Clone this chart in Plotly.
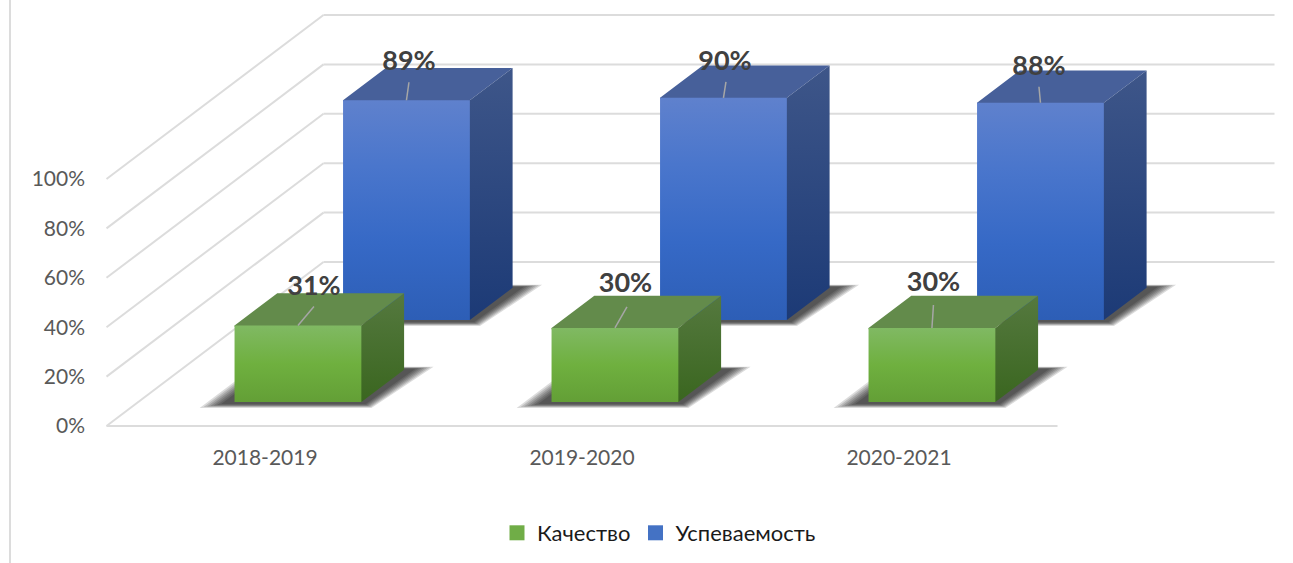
import plotly.graph_objects as go

# ---- data ----
categories = ["2018-2019", "2019-2020", "2020-2021"]
kachestvo = [31, 30, 30]
uspevaemost = [89, 90, 88]
y_ticks = [0, 20, 40, 60, 80, 100]
y_tick_labels = ["0%", "20%", "40%", "60%", "80%", "100%"]

# ---- geometry (axis units) ----
W, H = 1293, 563
M_L = 88
PX_X = 317.0      # px per category
PX_Y = 2.47       # px per percent
X_ZERO = 265.0    # px of the first category
Y_ZERO = 426.0    # px of 0 %
DEPTH_X = 217 / PX_X   # full floor depth, in category units
DEPTH_Y = 164 / PX_Y   # full floor depth, in percent units
BAR_OFF = -0.196
BAR_W = 0.40
BAR_D = 0.197
Z_GREEN = 0.146
Z_BLUE = 0.646
GRID = "#DCDCDC"


def pr(x, val, z):
    return x + z * DEPTH_X, val + z * DEPTH_Y


def poly(points, **kw):
    xs, ys = zip(*points)
    return go.Scatter(x=list(xs) + [xs[0]], y=list(ys) + [ys[0]], mode="lines", fill="toself",
                      line=dict(width=0), hoverinfo="skip", showlegend=False, **kw)


def seg(p, q, color=GRID, width=2):
    return go.Scatter(x=[p[0], q[0]], y=[p[1], q[1]], mode="lines", line=dict(color=color, width=width),
                      hoverinfo="skip", showlegend=False)


def vertical(stops):
    return dict(type="vertical", colorscale=stops)


fig = go.Figure()

# walls
for t in y_ticks:
    fig.add_trace(seg(pr(-0.5, t, 0), pr(-0.5, t, 1)))
    fig.add_trace(seg(pr(-0.5, t, 1), pr(2.5, t, 1)))
fig.add_trace(seg(pr(-0.5, 0, 0), pr(2.5, 0, 0)))

STYLE = {
    "blue": dict(
        front=[[0, "#2D5EB6"], [0.35, "#3669C6"], [0.7, "#4A76CC"], [1, "#5F81CD"]],
        side=[[0, "#1C3A76"], [1, "#3E5689"]],
        top="#47609A",
    ),
    "green": dict(
        front=[[0, "#639F36"], [0.5, "#6FB03F"], [1, "#80B963"]],
        side=[[0, "#3A661F"], [1, "#55793F"]],
        top="#638B4B",
    ),
}
SHADOW_LAYERS = [(30, 6), (27, 5), (24, 4.5), (21, 4), (18, 3.5), (15, 3), (12, 2)]
OVERLAP_X = 1.2 / PX_X
OVERLAP_Y = 1.2 / PX_Y


def add_bar(cat, val, z0, style):
    x0 = cat + BAR_OFF
    x1 = x0 + BAR_W
    z1 = z0 + BAR_D
    # soft floor shadow
    for ex, ez in SHADOW_LAYERS:
        ux = ex / PX_X
        uz = ez / 164
        fig.add_trace(poly([pr(x0 - ux * 0.9, 0, z0 - uz), pr(x1 + ux * 0.6, 0, z0 - uz),
                            pr(x1 + ux * 0.85, 0, z1 + uz * 0.5), pr(x0 - ux * 0.9, 0, z1 + uz * 0.5)],
                           fillcolor="rgba(0,0,0,0.14)"))
    # faces (top and side run slightly under the front face so no seam shows)
    fig.add_trace(poly([pr(x0, val - OVERLAP_Y, z0), pr(x1, val - OVERLAP_Y, z0), pr(x1, val, z0),
                        pr(x1, val, z1), pr(x0, val, z1), pr(x0, val, z0)],
                       fillcolor=style["top"]))
    fig.add_trace(poly([pr(x1 - OVERLAP_X, 0, z0), pr(x1, 0, z0), pr(x1, 0, z1), pr(x1, val, z1),
                        pr(x1, val, z0), pr(x1 - OVERLAP_X, val, z0)],
                       fillgradient=vertical(style["side"])))
    fig.add_trace(poly([pr(x0, 0, z0), pr(x1, 0, z0), pr(x1, val, z0), pr(x0, val, z0)],
                       fillgradient=vertical(style["front"])))


for i, v in enumerate(uspevaemost):
    add_bar(i, v, Z_BLUE, STYLE["blue"])
for i, v in enumerate(kachestvo):
    add_bar(i, v, Z_GREEN, STYLE["green"])

# data labels with leader lines; offsets (px) from the front-top centre of each bar
LEADER_END = {"g": [(16, 19), (12, 21), (1.5, 23)], "b": [(2.5, 18), (2.5, 16), (-1.5, 16)]}
LABEL_POS = {"g": [(16, 37), (10.5, 43), (1.5, 44)], "b": [(2.5, 37), (1.5, 35), (-1.5, 34)]}
lab_x, lab_y, lab_t = [], [], []
for key, vals, z0 in (("b", uspevaemost, Z_BLUE), ("g", kachestvo, Z_GREEN)):
    for i, v in enumerate(vals):
        cx, cy = pr(i + BAR_OFF + BAR_W / 2, v, z0)
        ex, ey = LEADER_END[key][i]
        fig.add_trace(seg((cx, cy), (cx + ex / PX_X, cy + ey / PX_Y), color="#A6A6A6", width=1.5))
        lx, ly = LABEL_POS[key][i]
        lab_x.append(cx + lx / PX_X)
        lab_y.append(cy + ly / PX_Y)
        lab_t.append(f"{v}%")
fig.add_trace(go.Scatter(x=lab_x, y=lab_y, text=lab_t, mode="text", textposition="middle center",
                         textfont=dict(family="Lato, Open Sans, sans-serif", size=27, color="#404040", weight="bold"),
                         hoverinfo="skip", showlegend=False))

# legend entries
fig.add_trace(go.Scatter(x=[None], y=[None], mode="markers", name="Качество",
                         marker=dict(symbol="square", size=15, color="#70AD47")))
fig.add_trace(go.Scatter(x=[None], y=[None], mode="markers", name="Успеваемость",
                         marker=dict(symbol="square", size=15, color="#4472C4")))

fig.update_layout(
    width=W, height=H,
    margin=dict(l=M_L, r=0, t=0, b=0),
    paper_bgcolor="white", plot_bgcolor="white",
    font=dict(family="Lato, Open Sans, sans-serif", color="#595959", size=21),
    legend=dict(orientation="h", x=(659 - M_L) / (W - M_L), xanchor="center",
                y=(563 - 533) / 563, yanchor="middle",
                font=dict(size=22, color="#1A1A1A"), bgcolor="rgba(0,0,0,0)",
                itemwidth=30, tracegroupgap=0),
    xaxis=dict(range=[(M_L - X_ZERO) / PX_X, (W - X_ZERO) / PX_X],
               tickvals=[0, 1, 2], ticktext=categories, showgrid=False, zeroline=False,
               showline=False, ticks="", anchor="free", position=(563 - 426) / 563,
               ticklabelstandoff=17),
    yaxis=dict(range=[(Y_ZERO - H) / PX_Y, Y_ZERO / PX_Y], tickvals=y_ticks, ticktext=y_tick_labels,
               showgrid=False, zeroline=False, showline=False, ticks="", ticklabelstandoff=2),
    shapes=[dict(type="line", xref="paper", yref="paper", x0=(10 - M_L) / (W - M_L), x1=(10 - M_L) / (W - M_L),
                 y0=0, y1=1, line=dict(color=GRID, width=2))],
)

fig.write_html("out.html", config={"displayModeBar": False},
               post_script="document.body.style.margin='0';document.body.style.overflow='hidden';")
